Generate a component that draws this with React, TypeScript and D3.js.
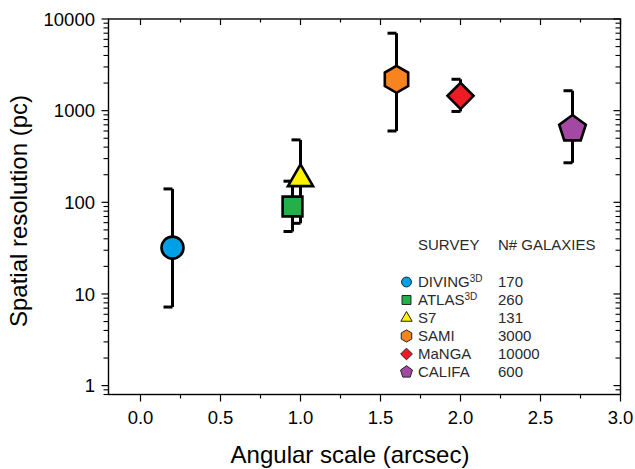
import React from 'react';
import * as d3 from 'd3';

// --- data ---
const surveys = ['DIVING', 'ATLAS', 'S7', 'SAMI', 'MaNGA', 'CALIFA'];
const superscripts = ['3D', '3D', '', '', '', ''];
const angularScale = [0.2, 0.95, 1.0, 1.6, 2.0, 2.7];
const resolution = [32, 90, 180, 2200, 1450, 630];
const resolutionLow = [7.2, 48, 59, 600, 980, 270];
const resolutionHigh = [140, 170, 480, 7000, 2200, 1650];
const galaxies = [170, 260, 131, 3000, 10000, 600];
const colors = ['#00a0e6', '#22b04b', '#fff200', '#f7841f', '#ed1c24', '#a349a4'];
const shapes = ['circle', 'square', 'triangle', 'hexagon', 'diamond', 'pentagon'];
const xTicks = [0, 0.5, 1.0, 1.5, 2.0, 2.5, 3.0];
const yTicks = [1, 10, 100, 1000, 10000];

const W = 635;
const H = 469;
const plot = { left: 108.5, right: 620.5, top: 19, bottom: 394.5 };
const FONT = "Arial, 'Liberation Sans', sans-serif";

// regular polygon path around (0,0), rotation in radians for the first vertex
const polygon = (n: number, r: number, rot: number) => {
  const pts: [number, number][] = d3.range(n).map(i => {
    const a = rot + (i * 2 * Math.PI) / n;
    return [r * Math.cos(a), r * Math.sin(a)];
  });
  return d3.line()(pts) + 'Z';
};

// marker path, s = scale factor (1 for plot, smaller for legend)
const markerPath = (shape: string, s: number) => {
  switch (shape) {
    case 'circle':
      return d3.arc()({ innerRadius: 0, outerRadius: 11 * s, startAngle: 0, endAngle: 2 * Math.PI }) as string;
    case 'square':
      return polygon(4, 14 * s, Math.PI / 4);
    case 'triangle':
      return polygon(3, 14.5 * s, -Math.PI / 2);
    case 'hexagon':
      return polygon(6, 13.5 * s, -Math.PI / 2);
    case 'diamond':
      return polygon(4, 13 * s, 0);
    default:
      return polygon(5, 14 * s, -Math.PI / 2);
  }
};

const App = () => {
  const x = d3.scaleLinear().domain([-0.2, 3.0]).range([plot.left, plot.right]);
  const y = d3.scaleLog().domain([0.8, 10000]).range([plot.bottom, plot.top]);

  const xMinor = xTicks.slice(0, -1).map(t => t + 0.25);
  const yAll = y.ticks().filter(t => !yTicks.includes(t));

  const legendX = 406.5;
  const legendY0 = 282;
  const legendStep = 18;

  return (
    <svg width={W} height={H} style={{ position: 'absolute', left: 0, top: 0, background: '#fff' }} fontFamily={FONT}>
      {/* frame */}
      <rect x={plot.left} y={plot.top} width={plot.right - plot.left} height={plot.bottom - plot.top}
        fill="none" stroke="#000" strokeWidth={1.4} />

      {/* x ticks: bottom outward, top inward */}
      {xTicks.map(t => (
        <g key={'xt' + t}>
          <line x1={x(t)} x2={x(t)} y1={plot.bottom} y2={plot.bottom + 7} stroke="#000" strokeWidth={1.2} />
          <line x1={x(t)} x2={x(t)} y1={plot.top} y2={plot.top + 6} stroke="#000" strokeWidth={1.2} />
          <text x={x(t)} y={424} textAnchor="middle" fontSize={18.5} fill="#000">{t.toFixed(1)}</text>
        </g>
      ))}
      {xMinor.map(t => (
        <g key={'xm' + t}>
          <line x1={x(t)} x2={x(t)} y1={plot.bottom} y2={plot.bottom + 4} stroke="#000" strokeWidth={1.2} />
          <line x1={x(t)} x2={x(t)} y1={plot.top} y2={plot.top + 3.5} stroke="#000" strokeWidth={1.2} />
        </g>
      ))}

      {/* y ticks: left outward, right inward */}
      {yTicks.map(t => (
        <g key={'yt' + t}>
          <line x1={plot.left - 7} x2={plot.left} y1={y(t)} y2={y(t)} stroke="#000" strokeWidth={1.2} />
          <line x1={plot.right - 7} x2={plot.right} y1={y(t)} y2={y(t)} stroke="#000" strokeWidth={1.2} />
          <text x={95} y={y(t)} dy="0.36em" textAnchor="end" fontSize={18.5} fill="#000">{t}</text>
        </g>
      ))}
      {yAll.map(t => (
        <g key={'ym' + t}>
          <line x1={plot.left - 5} x2={plot.left} y1={y(t)} y2={y(t)} stroke="#000" strokeWidth={1.1} />
          <line x1={plot.right - 5} x2={plot.right} y1={y(t)} y2={y(t)} stroke="#000" strokeWidth={1.1} />
        </g>
      ))}

      {/* axis titles */}
      <text x={350} y={463} textAnchor="middle" fontSize={24} fill="#000">Angular scale (arcsec)</text>
      <text transform={`translate(27,211) rotate(-90)`} textAnchor="middle" fontSize={24} fill="#000">
        Spatial resolution (pc)
      </text>

      {/* error bars with left half-caps */}
      {surveys.map((s, i) => {
        const cx = x(angularScale[i]);
        const yh = y(resolutionHigh[i]);
        const yl = y(resolutionLow[i]);
        return (
          <g key={'eb' + s} stroke="#000" strokeWidth={3} fill="none">
            <line x1={cx} x2={cx} y1={yh} y2={yl} />
            <path d={`M${cx - 9},${yh}H${cx}`} />
            <path d={`M${cx - 9},${yl}H${cx}`} />
          </g>
        );
      })}

      {/* markers */}
      {surveys.map((s, i) => (
        <path key={'mk' + s} d={markerPath(shapes[i], 1)}
          transform={`translate(${x(angularScale[i])},${y(resolution[i])})`}
          fill={colors[i]} stroke="#000" strokeWidth={2.6} strokeLinejoin="miter" />
      ))}

      {/* legend */}
      <g fontSize={15} fill="#2a2a2a">
        <text x={418} y={250}>SURVEY</text>
        <text x={498} y={250}>N# GALAXIES</text>
        {surveys.map((s, i) => {
          const ly = legendY0 + i * legendStep;
          return (
            <g key={'lg' + s}>
              <path d={markerPath(shapes[i], 0.45)} transform={`translate(${legendX},${ly})`}
                fill={colors[i]} stroke="#222" strokeWidth={1} />
              <text x={418} y={ly} dy="0.36em">
                {s}
                {superscripts[i] && <tspan dy="-0.55em" fontSize={10}>{superscripts[i]}</tspan>}
              </text>
              <text x={498} y={ly} dy="0.36em">{galaxies[i]}</text>
            </g>
          );
        })}
      </g>
    </svg>
  );
};

export default App;
